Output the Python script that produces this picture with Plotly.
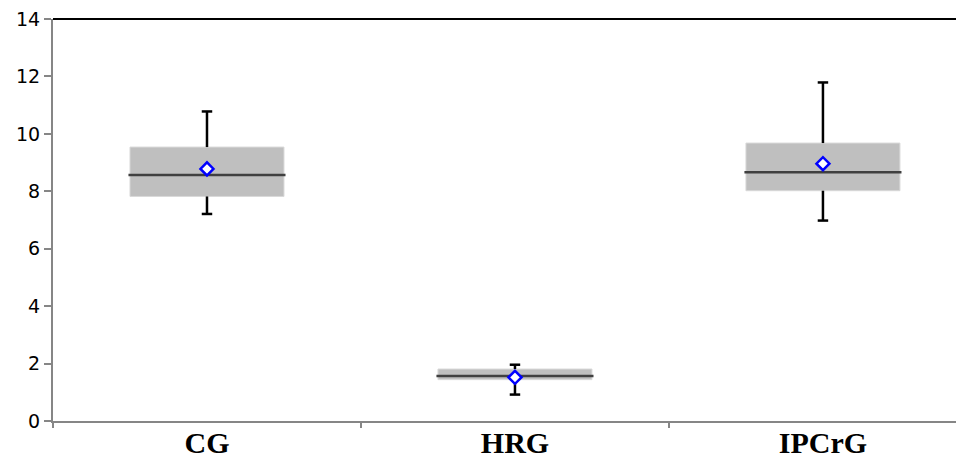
import plotly.graph_objects as go

# ---- data ----
categories = ["CG", "HRG", "IPCrG"]
lower_whisker = [7.21, 0.92, 6.98]
q1_values = [7.82, 1.44, 8.02]
median_values = [8.57, 1.57, 8.66]
q3_values = [9.54, 1.81, 9.68]
upper_whisker = [10.78, 1.96, 11.79]
mean_values = [8.78, 1.52, 8.96]
y_tick_values = [0, 2, 4, 6, 8, 10, 12, 14]

# ---- styling ----
BOX_W = 0.5
MED_HALF = 0.255
CAP_HALF = 0.017
AXIS_GRAY = "#868686"

pos = list(range(len(categories)))

fig = go.Figure()

# boxes (q1 -> q3)
fig.add_trace(go.Bar(
    x=pos,
    y=[q3 - q1 for q1, q3 in zip(q1_values, q3_values)],
    base=q1_values,
    width=BOX_W,
    marker=dict(color="#bfbfbf", line=dict(color="#d9d9d9", width=1)),
    hoverinfo="skip",
    showlegend=False,
))

# whiskers + caps
wx, wy = [], []
for i in pos:
    wx += [i, i, None, i, i, None]
    wy += [q3_values[i], upper_whisker[i], None, q1_values[i], lower_whisker[i], None]
    wx += [i - CAP_HALF, i + CAP_HALF, None, i - CAP_HALF, i + CAP_HALF, None]
    wy += [upper_whisker[i], upper_whisker[i], None, lower_whisker[i], lower_whisker[i], None]
fig.add_trace(go.Scatter(
    x=wx, y=wy, mode="lines",
    line=dict(color="black", width=2.5),
    hoverinfo="skip", showlegend=False,
))

# medians
mx, my = [], []
for i in pos:
    mx += [i - MED_HALF, i + MED_HALF, None]
    my += [median_values[i], median_values[i], None]
fig.add_trace(go.Scatter(
    x=mx, y=my, mode="lines",
    line=dict(color="#404040", width=2.5),
    hoverinfo="skip", showlegend=False,
))

# means
fig.add_trace(go.Scatter(
    x=pos, y=mean_values, mode="markers",
    marker=dict(symbol="diamond", size=10, color="white",
                line=dict(color="#0000ff", width=2.5)),
    showlegend=False,
))

# invisible trace for the category-label axis
fig.add_trace(go.Scatter(
    x=pos, y=median_values, xaxis="x2", mode="markers",
    marker=dict(opacity=0), hoverinfo="skip", showlegend=False,
))

x_range = [-0.5, 2.458]

fig.update_layout(
    width=956, height=453,
    margin=dict(l=45, r=0, t=11, b=40),
    paper_bgcolor="white", plot_bgcolor="white",
    xaxis=dict(
        range=x_range, automargin=False,
        showgrid=False, zeroline=False,
        showline=True, linecolor=AXIS_GRAY, linewidth=2,
        tickvals=[-0.5, 0.5, 1.5],
        ticks="outside", ticklen=5, tickwidth=2, tickcolor=AXIS_GRAY,
        showticklabels=False,
    ),
    xaxis2=dict(
        overlaying="x", matches="x", side="bottom", anchor="y",
        range=x_range, automargin=False,
        showgrid=False, zeroline=False, showline=False,
        tickvals=pos, ticktext=categories, ticks="",
        ticklabelstandoff=1, ticklabeloverflow="allow",
        tickfont=dict(family="Liberation Serif", size=30, color="black", weight="bold"),
    ),
    yaxis=dict(
        range=[0, 14], automargin=False,
        tickvals=y_tick_values, ticklabeloverflow="allow",
        showgrid=False, zeroline=False,
        showline=True, linecolor=AXIS_GRAY, linewidth=2,
        ticks="outside", ticklen=7, tickwidth=2, tickcolor=AXIS_GRAY,
        tickfont=dict(family="DejaVu Sans", size=19, color="black"),
    ),
    shapes=[dict(type="line", xref="paper", yref="paper", x0=0, x1=1, y0=1, y1=1,
                 line=dict(color="black", width=2))],
)

fig.write_html("out.html")
